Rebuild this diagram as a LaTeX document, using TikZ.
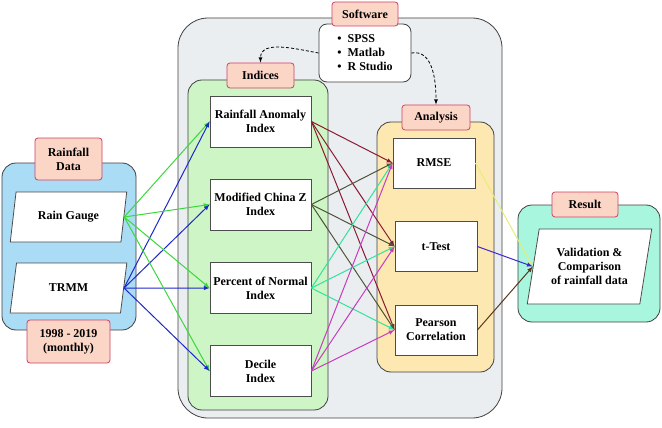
\documentclass[tikz,border=0pt]{standalone}
\usepackage{fontspec}
\setmainfont{Liberation Serif}
\usetikzlibrary{arrows}
\usetikzlibrary{shapes.geometric}
\definecolor{grayfill}{RGB}{234, 238, 241}
\definecolor{bluefill}{RGB}{170, 220, 246}
\definecolor{greenfill}{RGB}{206, 245, 198}
\definecolor{yellowfill}{RGB}{253, 232, 178}
\definecolor{cyanfill}{RGB}{168, 246, 222}
\definecolor{tagfill}{RGB}{251, 214, 198}
\definecolor{tagedge}{RGB}{208, 64, 100}
\definecolor{gaugeln}{RGB}{60, 215, 60}
\definecolor{trmmln}{RGB}{30, 40, 200}
\definecolor{raln}{RGB}{140, 26, 50}
\definecolor{mczln}{RGB}{80, 84, 56}
\definecolor{pnln}{RGB}{50, 225, 160}
\definecolor{decln}{RGB}{200, 60, 190}
\definecolor{rmseln}{RGB}{230, 238, 120}
\definecolor{ttln}{RGB}{60, 40, 210}
\definecolor{prln}{RGB}{90, 55, 30}
\tikzset{
    panel/.style={draw=black!75, line width=0.8pt, rounded corners=14pt},
    tag/.style={draw=tagedge, fill=tagfill, line width=0.8pt, rounded corners=3pt,
        align=center, inner sep=1pt},
    box/.style={draw=black!70, fill=white, line width=0.8pt, align=center,
        minimum width=101pt, minimum height=51pt, inner sep=1pt},
    slant/.style={trapezium, trapezium stretches=true, trapezium left angle=73,
        trapezium right angle=107, draw=black!70, fill=white, line width=0.8pt,
        align=center, inner sep=0pt},
    link/.style={line width=1pt, -latex}
}
\begin{document}
\begin{tikzpicture}[x=1pt, y=-1pt, font=\fontsize{12}{14}\selectfont\bfseries]
    \useasboundingbox (0,0) rectangle (662,428);
    % panels
    \node[panel, fill=grayfill, rounded corners=30pt, minimum width=324pt, minimum height=400pt] (main) at (340,218) {};
    \node[panel, fill=bluefill, minimum width=134pt, minimum height=167pt] (datapanel) at (69,246.5) {};
    \node[panel, fill=greenfill, minimum width=140pt, minimum height=330pt] (indpanel) at (258,245) {};
    \node[panel, fill=yellowfill, minimum width=117pt, minimum height=250pt] (anapanel) at (435.5,247) {};
    \node[panel, fill=cyanfill, minimum width=142pt, minimum height=117pt] (respanel) at (589,263.5) {};
    \node[panel, fill=white, rounded corners=8pt, minimum width=92pt, minimum height=58pt, align=left] (soft) at (365,53)
        {\textbullet\hspace{6pt}SPSS\\ \textbullet\hspace{6pt}Matlab\\ \textbullet\hspace{6pt}R Studio};
    % tags
    \node[tag, minimum width=67pt, minimum height=42pt] (datatag) at (68.5,159) {Rainfall\\Data};
    \node[tag, minimum width=83pt, minimum height=43pt] (yeartag) at (68.5,341.5) {1998 - 2019\\(monthly)};
    \node[tag, minimum width=66pt, minimum height=24pt] (softtag) at (365,14) {Software};
    \node[tag, minimum width=67pt, minimum height=25pt] (indtag) at (260.5,75.5) {Indices};
    \node[tag, minimum width=68pt, minimum height=25pt] (anatag) at (436,117.5) {Analysis};
    \node[tag, minimum width=66pt, minimum height=25pt] (restag) at (585,204.5) {Result};
    % inputs
    \node[slant, minimum width=117pt, minimum height=50pt] (gauge) at (68.5,217) {Rain Gauge};
    \node[slant, minimum width=117pt, minimum height=50pt] (trmm) at (68.5,288) {TRMM};
    % indices
    \node[box] (ra) at (260.5,121.5) {Rainfall Anomaly\\Index};
    \node[box] (mcz) at (260.5,204.5) {Modified China Z\\Index};
    \node[box] (pn) at (260.5,288) {Percent of Normal\\Index};
    \node[box] (dec) at (260.5,371) {Decile\\Index};
    % analysis
    \node[box, minimum width=82pt, minimum height=50pt] (rmse) at (434,163) {RMSE};
    \node[box, minimum width=82pt, minimum height=50pt] (ttest) at (436,246.5) {t-Test};
    \node[box, minimum width=82pt, minimum height=50pt] (pearson) at (436,330) {Pearson\\Correlation};
    % result
    \node[slant, trapezium left angle=76, trapezium right angle=104, minimum width=125pt, minimum height=75pt] (valid) at (589.5,266.5)
        {Validation \&\\Comparison\\of rainfall data};
    % software links
    \draw[densely dashed, line width=0.8pt, -latex] (soft.west) to[out=170, in=90] (indtag.north);
    \draw[densely dashed, line width=0.8pt, -latex] (soft.east) to[out=10, in=90] (anatag.north);
    % inputs to indices
    \foreach \i in {ra, mcz, pn, dec} {
        \draw[link, gaugeln] (gauge.east) -- (\i.west);
        \draw[link, trmmln] (trmm.east) -- (\i.west);
    }
    % indices to analysis
    \foreach \i/\c in {ra/raln, mcz/mczln, pn/pnln, dec/decln} {
        \foreach \j in {rmse, ttest, pearson}
            \draw[link, \c] (\i.east) -- (\j.west);
    }
    % analysis to result
    \draw[link, rmseln] (rmse.east) -- (valid.west);
    \draw[link, ttln] (ttest.east) -- (valid.west);
    \draw[link, prln] (pearson.east) -- (valid.west);
\end{tikzpicture}
\end{document}
